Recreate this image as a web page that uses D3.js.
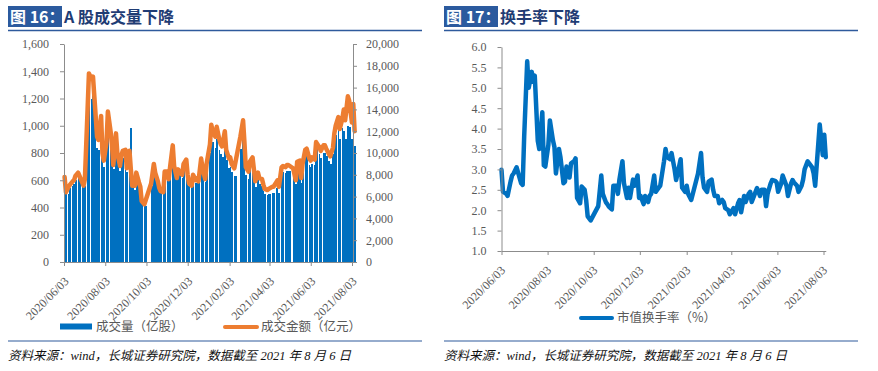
<!DOCTYPE html>
<html><head><meta charset="utf-8">
<script src="https://cdn.jsdelivr.net/npm/d3@7"></script>
<style>
body{margin:0;background:#fff;}
svg{display:block;}
</style></head><body>
<svg id="c" width="878" height="371"></svg>
<script>
// ---------- DATA ----------
const startDate = "2020-06-03";
const endDate = "2021-08-06";
// exchange closures on weekdays
const holidays = ["2020-06-25","2020-06-26","2020-10-01","2020-10-02","2020-10-05","2020-10-06","2020-10-07","2020-10-08",
  "2021-01-01","2021-02-11","2021-02-12","2021-02-15","2021-02-16","2021-02-17","2021-04-05","2021-05-03","2021-05-04","2021-05-05","2021-06-14"];
const sampleStep = 2; // one value every 2 trading days

// 成交量（亿股）
const volume = [660,500,500,540,560,570,600,620,560,540,
  560,1000,1230,1200,1220,1100,840,820,950,740,
  700,800,950,870,800,680,860,740,670,730,
  760,770,660,760,980,540,530,620,550,520,
  430,410,560,700,640,580,530,510,500,650,
  650,600,680,830,690,600,660,640,620,700,
  730,620,560,550,620,580,600,580,740,670,
  590,700,800,920,880,840,900,820,790,770,
  870,750,690,700,660,630,830,940,800,640,
  610,680,700,620,550,600,570,560,520,500,
  490,500,510,510,540,560,510,650,660,650,
  670,670,650,570,690,700,580,680,770,780,
  710,700,720,710,830,790,760,800,800,780,
  740,720,790,880,930,990,900,980,960,900,
  1000,990,900,950,850];
// 成交金额（亿元）
const amount = [7800,6400,6900,7100,7400,7500,7900,8200,7300,7000,
  7600,14000,17300,16800,17000,15200,11500,11200,13400,10000,
  9300,11000,13800,12000,10800,8900,11800,10000,8800,9800,
  10200,10300,8600,10200,8500,7000,7000,8200,7300,6900,
  5600,5300,7200,9000,8200,7400,6800,6500,6400,8300,
  8300,7600,8700,10700,8800,7700,8500,8200,8000,9000,
  9400,8000,7200,7000,8000,7500,7700,7400,9500,8600,
  7600,9000,10800,12600,12000,11500,12400,11200,10800,10600,
  12000,10300,9500,9600,9000,8600,11500,13000,11000,8700,
  8300,9200,9600,8500,7400,8200,7700,7600,7100,6700,
  6600,6700,6900,6900,7300,7500,6900,8700,8800,8700,
  8900,8900,8600,7500,9200,9300,7700,9000,10300,10400,
  9500,9300,9600,9400,11000,10500,10200,10700,10700,10400,
  9900,9700,10500,11800,12500,13300,12200,13200,14000,13000,
  15200,14800,12800,14500,12000];
// 市值换手率（%）
const turnover = [2.99,2.45,2.41,2.35,2.70,2.85,2.90,3.05,2.66,2.62,
  3.80,5.65,5.00,5.39,5.15,5.30,3.70,3.50,4.40,3.10,
  3.07,3.60,4.20,3.72,3.55,2.90,3.50,3.30,2.66,2.70,
  3.07,2.80,3.15,3.20,3.27,2.30,2.17,2.58,2.50,2.25,
  1.85,1.75,2.10,2.85,2.40,2.20,2.15,2.09,2.02,2.60,
  2.60,2.40,2.75,3.20,2.66,2.30,2.55,2.30,2.75,2.60,
  2.85,2.30,2.35,2.15,2.35,2.20,2.35,2.40,2.85,2.45,
  2.55,2.60,3.20,3.50,3.30,3.25,3.40,3.00,2.74,2.90,
  3.25,2.55,2.45,2.60,2.40,2.25,2.90,3.40,2.80,2.55,
  2.45,2.70,2.75,2.50,2.35,2.35,2.17,2.25,2.20,2.05,
  2.00,1.90,2.05,1.90,2.17,2.25,1.95,2.35,2.20,2.40,
  2.45,2.20,2.54,2.35,2.50,2.50,2.10,2.40,2.65,2.74,
  2.72,2.68,2.45,2.65,2.85,2.60,2.35,2.65,2.74,2.68,
  2.60,2.45,2.60,2.75,3.00,3.20,3.15,3.05,2.90,2.60,
  3.60,4.10,3.35,3.85,3.30];

const xTickLabels = ["2020/06/03","2020/08/03","2020/10/03","2020/12/03","2021/02/03","2021/04/03","2021/06/03","2021/08/03"];
const volTicks = [0,200,400,600,800,1000,1200,1400,1600];
const amtTicks = [0,2000,4000,6000,8000,10000,12000,14000,16000,18000,20000];
const toTicks = [1.0,1.5,2.0,2.5,3.0,3.5,4.0,4.5,5.0,5.5,6.0];

const title1Tag = "图 16：", title1 = "A 股成交量下降";
const title2Tag = "图 17：", title2 = "换手率下降";
const legendVol = "成交量（亿股）", legendAmt = "成交金额（亿元）", legendTo = "市值换手率（%）";
const source = "资料来源：wind，长城证券研究院，数据截至 2021 年 8 月 6 日";

// ---------- CALENDAR ----------
const parse = d3.utcParse("%Y-%m-%d");
const fmt = d3.utcFormat("%Y-%m-%d");
const hol = new Set(holidays);
const tradingDays = d3.utcDay.range(parse(startDate), d3.utcDay.offset(parse(endDate), 1))
  .filter(d => { const w = d.getUTCDay(); return w !== 0 && w !== 6 && !hol.has(fmt(d)); });
const dates = tradingDays.filter((d, i) => i % sampleStep === 0);
const tickDates = xTickLabels.map(s => d3.utcParse("%Y/%m/%d")(s));

const svg = d3.select("#c");
const axisColor = "#8c8c8c", labelColor = "#595959";
const numFont = "'Liberation Serif','Times New Roman',serif";
const cjkFont = "'Noto Sans CJK SC','Noto Sans',sans-serif";
const blue = "#0070C0", orange = "#ED7D31";

function styleAxis(g) {
  g.selectAll("path.domain").attr("stroke", axisColor).attr("stroke-width", 1);
  g.selectAll(".tick line").attr("stroke", axisColor);
  g.selectAll("text").attr("fill", labelColor).style("font-family", numFont).style("font-size", "12px");
}

function header(x0, x1, tag, title) {
  svg.append("rect").attr("x", x0).attr("y", 6).attr("width", 54).attr("height", 21).attr("fill", "#2B5A9E");
  svg.append("text").attr("x", x0 + 2).attr("y", 23).text(tag)
    .attr("fill", "#fff").style("font-family", cjkFont).style("font-weight", "bold").style("font-size", "16px");
  svg.append("text").attr("x", x0 + 56).attr("y", 23).text(title)
    .attr("fill", "#1F3C74").style("font-family", cjkFont).style("font-weight", "bold").style("font-size", "16px");
  svg.append("line").attr("x1", x0).attr("x2", x1).attr("y1", 30.5).attr("y2", 30.5).attr("stroke", "#2E5A9C").attr("stroke-width", 1.5);
  svg.append("line").attr("x1", x0).attr("x2", x1).attr("y1", 341).attr("y2", 341).attr("stroke", "#2E5A9C").attr("stroke-width", 1.2);
  svg.append("text").attr("x", x0).attr("y", 360).text(source)
    .attr("fill", "#111").style("font-family", "'Liberation Serif','Noto Sans CJK SC',serif")
    .style("font-style", "italic").style("font-size", "12.5px");
}

// ---------- LEFT CHART ----------
{
  const x = d3.scaleUtc().domain([parse(startDate), parse(endDate)]).range([64, 64 + 429 * 288 / 426]);
  const yV = d3.scaleLinear().domain([0, 1600]).range([262, 44]);
  const yA = d3.scaleLinear().domain([0, 20000]).range([262, 44]);
  const n = Math.min(dates.length, volume.length);
  const g = svg.append("g");
  const px = i => Math.round(x(dates[i]));
  g.selectAll("rect.bar").data(d3.range(n)).join("rect")
    .attr("shape-rendering", "crispEdges")
    .attr("x", i => px(i))
    .attr("width", i => {
      const diff = i < n - 1 ? px(i + 1) - px(i) : 2;
      return diff <= 2 ? Math.max(diff, 1) : Math.min(diff - 1, 3);
    })
    .attr("y", i => Math.round(yV(volume[i])))
    .attr("height", i => Math.round(yV(0)) - Math.round(yV(volume[i])))
    .attr("fill", blue);

  g.append("path").datum(d3.range(n))
    .attr("d", d3.line().x(i => x(dates[i]) + 0.6).y(i => yA(amount[i])))
    .attr("fill", "none").attr("stroke", orange).attr("stroke-width", 4.5)
    .attr("stroke-linejoin", "round").attr("stroke-linecap", "round");

  const ax = svg.append("g").attr("transform", "translate(0,262)")
    .call(d3.axisBottom(x).tickValues(tickDates).tickFormat((d, i) => xTickLabels[i]).tickSize(4).tickSizeOuter(0));
  styleAxis(ax);
  ax.selectAll("text").attr("x", 0).attr("y", 0).attr("dy", "0.35em")
    .attr("text-anchor", "end").attr("transform", "translate(2,17) rotate(-45)");

  const al = svg.append("g").attr("transform", "translate(64,0)")
    .call(d3.axisLeft(yV).tickValues(volTicks).tickFormat(d3.format(",")).tickSize(4).tickPadding(11).tickSizeOuter(0));
  styleAxis(al);
  const ar = svg.append("g").attr("transform", "translate(353,0)")
    .call(d3.axisRight(yA).tickValues(amtTicks).tickFormat(d3.format(",")).tickSize(4).tickPadding(9).tickSizeOuter(0));
  styleAxis(ar);

  // legend
  svg.append("rect").attr("x", 60).attr("y", 323.5).attr("width", 32).attr("height", 6).attr("fill", blue);
  svg.append("text").attr("x", 96).attr("y", 327).attr("dy", "0.35em").text(legendVol)
    .attr("fill", labelColor).style("font-family", cjkFont).style("font-size", "12.5px");
  svg.append("line").attr("x1", 225).attr("x2", 257).attr("y1", 327).attr("y2", 327)
    .attr("stroke", orange).attr("stroke-width", 4).attr("stroke-linecap", "round");
  svg.append("text").attr("x", 261).attr("y", 327).attr("dy", "0.35em").text(legendAmt)
    .attr("fill", labelColor).style("font-family", cjkFont).style("font-size", "12.5px");

  header(8, 422, title1Tag, title1);
}

// ---------- RIGHT CHART ----------
{
  const x = d3.scaleUtc().domain([parse(startDate), parse(endDate)]).range([501.5, 501.5 + 429 * 322 / 426]);
  const y = d3.scaleLinear().domain([1, 6]).range([251, 47]);
  const n = Math.min(dates.length, turnover.length);
  svg.append("path").datum(d3.range(n))
    .attr("d", d3.line().x(i => x(dates[i])).y(i => y(turnover[i])))
    .attr("fill", "none").attr("stroke", blue).attr("stroke-width", 4.5)
    .attr("stroke-linejoin", "round").attr("stroke-linecap", "round");

  const ax = svg.append("g").attr("transform", "translate(0,251)")
    .call(d3.axisBottom(x).tickValues(tickDates).tickFormat((d, i) => xTickLabels[i]).tickSize(4).tickSizeOuter(0));
  styleAxis(ax);
  ax.selectAll("text").attr("x", 0).attr("y", 0).attr("dy", "0.35em")
    .attr("text-anchor", "end").attr("transform", "translate(1,17) rotate(-45)");

  const al = svg.append("g").attr("transform", "translate(501.5,0)")
    .call(d3.axisLeft(y).tickValues(toTicks).tickFormat(d3.format(".1f")).tickSize(4).tickPadding(11).tickSizeOuter(0));
  styleAxis(al);

  svg.append("line").attr("x1", 581).attr("x2", 612).attr("y1", 318).attr("y2", 318)
    .attr("stroke", blue).attr("stroke-width", 4).attr("stroke-linecap", "round");
  svg.append("text").attr("x", 617).attr("y", 318).attr("dy", "0.35em").text(legendTo)
    .attr("fill", labelColor).style("font-family", cjkFont).style("font-size", "12.5px");

  header(444, 858, title2Tag, title2);
}
</script>
</body></html>
